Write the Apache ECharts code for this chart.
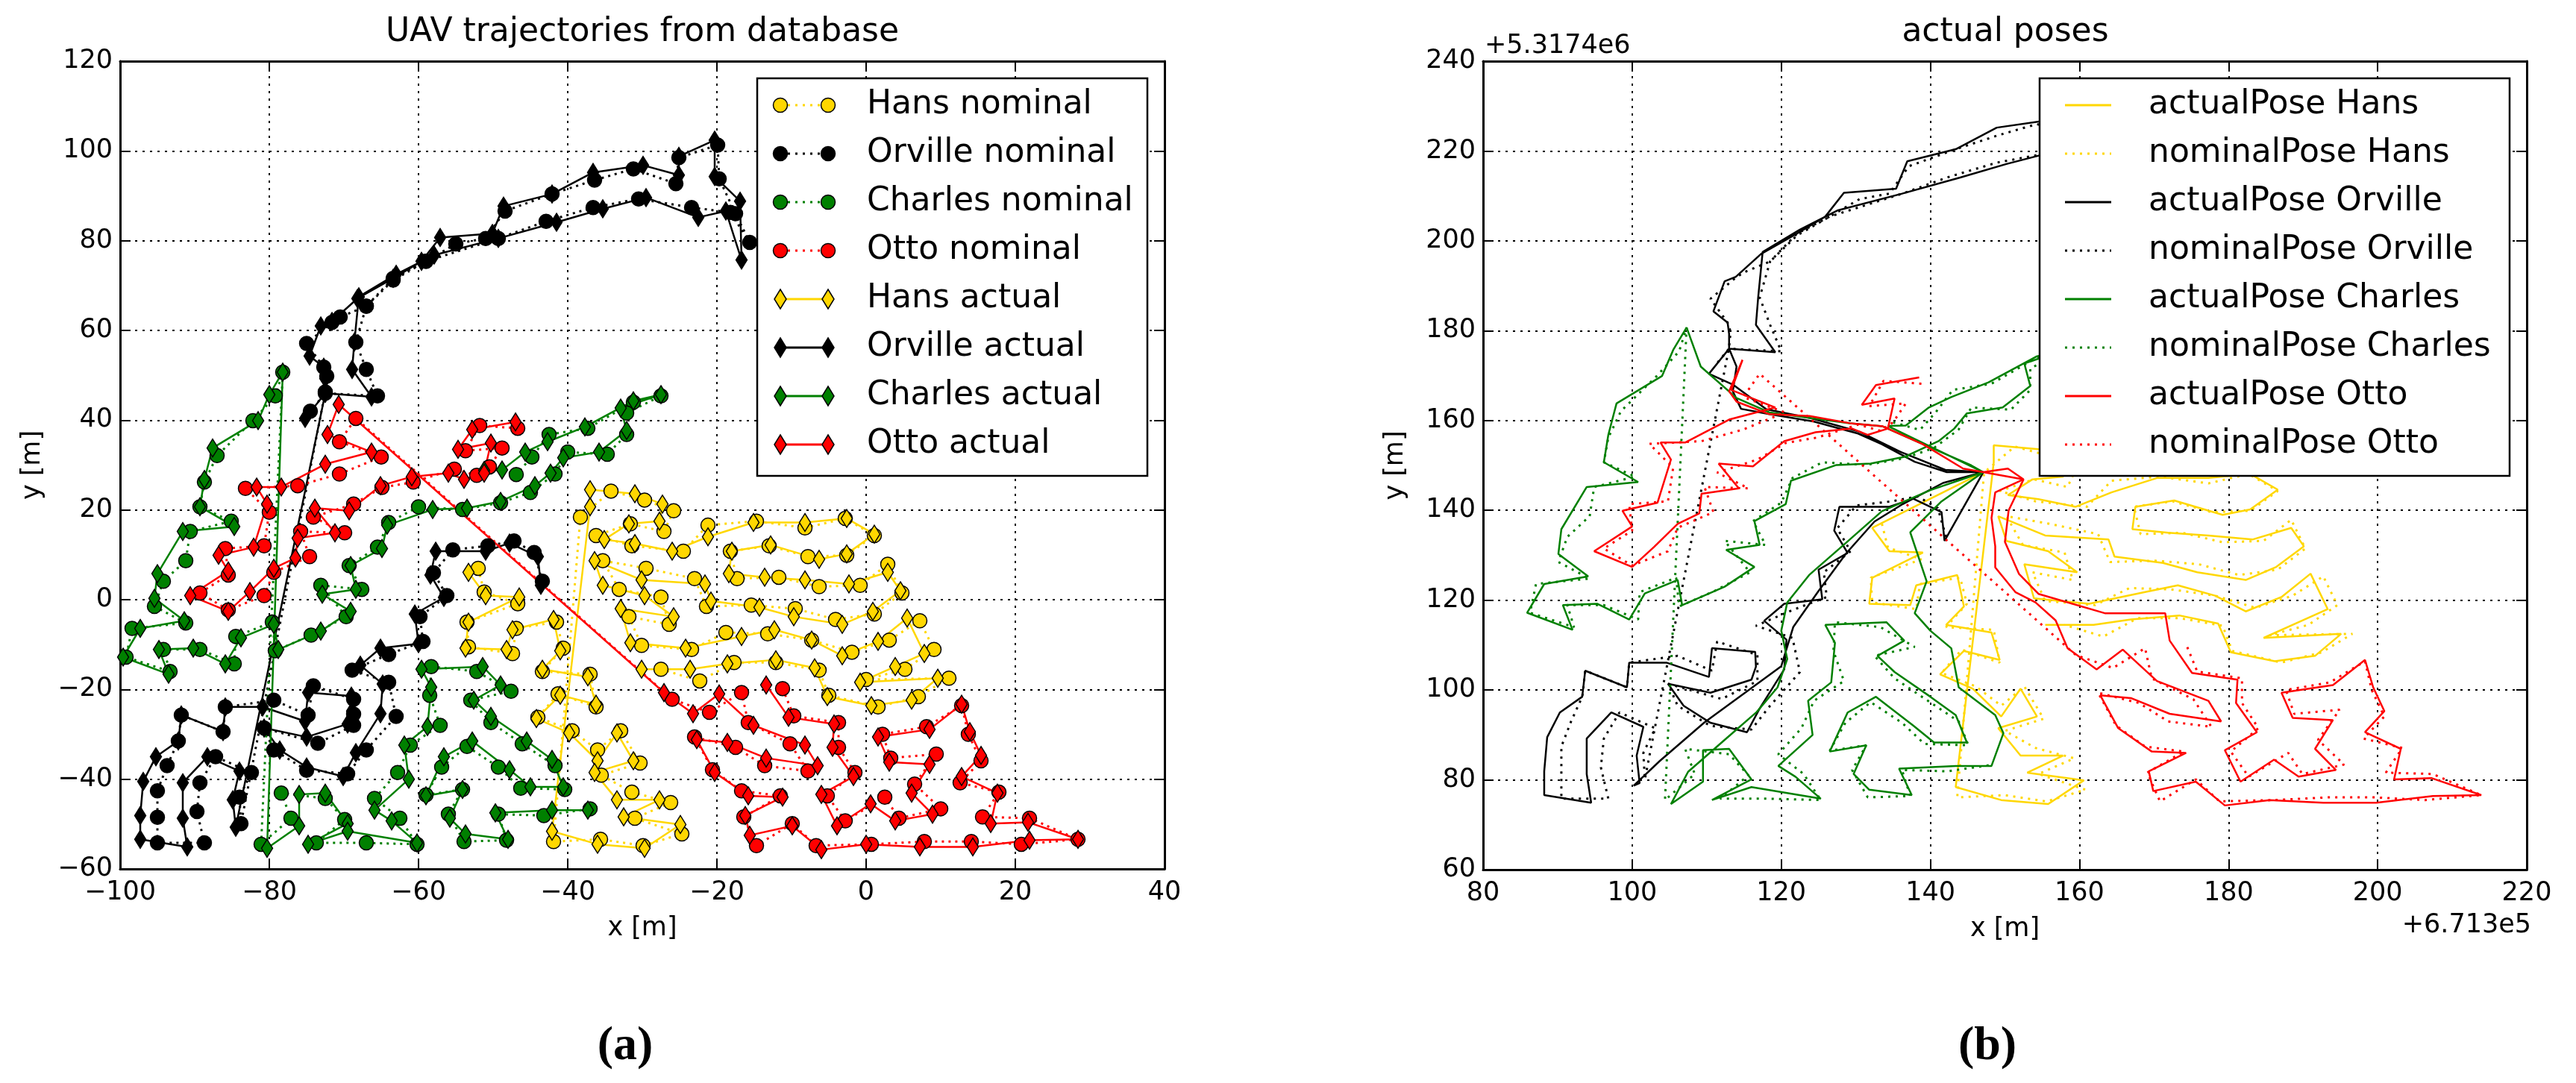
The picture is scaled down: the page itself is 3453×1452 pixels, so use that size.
<!DOCTYPE html>
<html>
<head>
<meta charset="utf-8">
<title>UAV trajectories</title>
<script src="https://cdn.jsdelivr.net/npm/echarts@6/dist/echarts.min.js"></script>
<style>
  html, body { margin: 0; padding: 0; background: #fff; }
  #main { width: 3453px; height: 1452px; }
</style>
</head>
<body>
<div id="main"></div>
<script type="text/javascript">
// waypoints, local metres: [x, y]
var hansNominal = [
  [-52.0,7.0],[-51.2,1.7],[-46.7,-0.9],[-53.5,-5.0],[-53.3,-10.5],[-47.4,-12.0],[-46.9,-6.4],[-41.5,-5.0],[-40.6,-10.8],[-43.4,-16.0],
  [-37.0,-16.6],[-36.2,-23.9],[-41.3,-21.0],[-44.0,-26.2],[-39.4,-29.2],[-36.0,-33.5],[-32.9,-29.2],[-30.3,-36.4],[-35.5,-39.1],[-31.4,-42.9],
  [-26.2,-45.2],[-31.0,-48.7],[-24.7,-52.2],[-29.9,-54.8],[-35.6,-53.4],[-41.9,-53.9],
  [-38.3,18.4],[-34.2,24.2],[-29.7,22.2],[-25.8,19.8],[-27.1,15.2],[-31.6,16.9],[-36.2,14.3],[-31.4,12.0],[-24.5,10.8],[-21.2,16.6],
  [-14.7,17.5],[-8.2,16.0],[-2.8,18.1],[1.1,14.3],[-2.6,9.9],[-7.8,9.6],[-13.0,12.0],[-18.2,10.8],[-17.3,4.7],[-11.7,5.0],
  [-6.3,2.9],[-0.8,3.2],[2.9,7.9],[4.8,1.5],[1.1,-3.2],[-4.1,-4.4],[-9.5,-2.0],[-15.4,-1.2],[-21.4,-1.5],[-23.0,4.7],
  [-29.5,7.0],[-35.3,8.7],[-33.1,2.3],[-27.5,0.6],[-26.4,-5.5],[-31.8,-3.8],[-30.1,-10.2],[-23.4,-11.1],[-18.8,-7.3],[-13.2,-7.6],
  [-7.3,-9.0],[-1.9,-11.7],[3.1,-9.0],[7.2,-4.7],[9.1,-11.1],[5.2,-15.5],[0.0,-17.8],[11.1,-17.5],[7.0,-21.6],[1.6,-23.9],
  [-5.0,-21.3],[-6.3,-15.7],[-12.1,-14.0],[-17.7,-14.0],[-22.3,-18.1],[-27.5,-15.5]
];
var hansActualA = [
  [-53.3,6.1],[-51.0,0.9],[-46.5,0.6],[-53.3,-5.0],[-53.7,-10.8],[-48.2,-11.1],[-47.4,-6.7],[-41.9,-4.4],[-41.0,-11.4],[-43.4,-15.5],
  [-37.3,-17.2],[-36.2,-23.3],[-41.0,-21.3],[-44.2,-26.5],[-39.8,-29.7],[-36.0,-35.9],[-33.4,-29.7],[-31.2,-35.9],[-36.4,-38.5],[-33.4,-44.6],
  [-27.7,-44.6],[-32.5,-48.4],[-24.9,-50.1],[-29.7,-55.4],[-36.0,-54.5],[-42.1,-51.6]
];
var hansActualB = [
  [-37.0,20.7],[-37.0,24.5],[-31.0,23.6],[-27.3,21.3],[-27.7,17.5],[-31.8,16.9],[-35.1,13.4],[-31.0,12.5],[-26.0,10.8],[-21.2,14.0],
  [-15.1,17.2],[-8.2,17.2],[-2.6,18.1],[1.1,14.6],[-2.6,10.2],[-6.3,9.0],[-12.8,12.2],[-18.0,10.8],[-18.4,5.8],[-13.6,5.0],
  [-8.2,4.4],[-2.3,3.5],[2.9,6.1],[4.6,2.0],[0.9,-2.6],[-3.2,-5.5],[-9.7,-3.8],[-14.3,-1.7],[-20.8,-0.3],[-21.6,3.5],
  [-30.1,4.4],[-36.4,8.7],[-35.3,3.2],[-29.7,0.9],[-25.8,-3.8],[-32.9,-2.0],[-31.6,-9.6],[-24.2,-10.8],[-16.7,-8.2],[-12.3,-6.7],
  [-7.3,-9.0],[-3.2,-12.5],[1.6,-9.3],[5.5,-4.1],[7.8,-12.0],[3.9,-14.9],[-0.8,-18.4],[9.6,-17.5],[6.1,-22.4],[0.7,-23.6],
  [-5.2,-21.6],[-6.9,-15.2],[-12.1,-13.4],[-18.6,-14.3],[-23.6,-15.5],[-30.1,-15.5]
];
var orvilleNominal = [
  [-43.4,4.1],[-44.5,10.5],[-47.2,13.1],[-50.7,12.0],[-55.4,11.1],[-58.0,6.0],[-56.2,0.9],[-59.8,-3.8],[-59.4,-9.3],[-64.0,-12.2],
  [-68.9,-15.7],[-64.0,-18.4],[-63.0,-26.0],[-67.0,-33.5],[-69.5,-38.8],[-75.0,-38.0],[-79.4,-33.5],[-80.7,-28.6],[-73.5,-32.0],[-68.7,-28.0],
  [-68.7,-25.5],[-68.7,-22.2],[-74.1,-19.2],[-74.8,-25.7],[-79.4,-22.4],[-85.9,-23.9],[-86.2,-29.4],[-91.8,-25.7],[-92.2,-31.5],[-93.7,-37.0],
  [-95.0,-42.6],[-95.0,-48.5],[-95.0,-54.2],[-88.7,-54.2],[-89.7,-47.2],[-89.3,-40.8],[-87.2,-35.0],[-82.4,-38.5],[-84.0,-44.0],[-83.8,-49.9],
  [-72.5,46.3],[-72.3,49.8],[-72.7,51.8],[-75.0,57.1],[-71.6,61.8],[-70.5,63.0],[-67.0,65.4],[-63.4,71.2],[-59.0,75.4],[-55.0,79.3],
  [-51.0,80.5],[-48.4,86.6],[-42.1,90.4],[-36.4,93.5],[-31.2,96.0],[-25.5,92.7],[-25.1,98.5],[-19.9,101.3],[-19.7,93.8],[-17.5,86.0],
  [-15.6,79.6],[-18.2,86.3],[-23.4,87.4],[-30.5,89.3],[-36.6,87.4],[-42.9,84.3],[-49.3,80.5],[-59.0,75.4],[-63.4,71.6],[-67.0,65.4],
  [-68.4,57.4],[-67.0,51.3],[-65.5,45.4],[-72.5,46.0],[-74.5,42.0]
];
var orvilleActualA = [
  [-43.6,3.2],[-44.0,9.6],[-47.8,12.6],[-51.0,10.8],[-57.7,10.8],[-58.4,5.5],[-56.6,0.5],[-60.5,-3.2],[-60.0,-9.8],[-65.1,-10.8],
  [-67.8,-14.6],[-64.8,-18.8],[-65.1,-25.4],[-68.4,-34.1],[-70.1,-39.4],[-75.0,-37.3],[-78.6,-33.5],[-80.7,-28.6],[-75.0,-30.6],[-69.5,-27.7],
  [-68.9,-24.8],[-69.0,-21.5],[-74.8,-20.7],[-75.2,-27.1],[-80.9,-23.9],[-85.9,-23.9],[-86.2,-29.4],[-91.8,-25.7],[-92.2,-31.5],[-95.2,-35.0],
  [-96.9,-40.5],[-97.3,-48.1],[-97.3,-53.4],[-91.0,-55.1],[-91.6,-48.7],[-91.6,-40.8],[-88.3,-35.0],[-84.0,-38.2],[-84.9,-44.6],[-84.5,-50.7]
];
var orvilleActualB = [
  [-72.5,46.0],[-72.5,49.3],[-72.7,51.8],[-74.6,54.3],[-73.1,61.0],[-71.6,62.0],[-68.2,67.1],[-63.4,71.6],[-59.6,75.4],[-57.1,80.7],
  [-50.1,81.6],[-48.6,87.7],[-42.1,90.4],[-36.6,95.2],[-29.9,96.8],[-25.1,94.6],[-25.1,98.8],[-20.3,102.4],[-20.3,94.3],[-16.9,88.8],
  [-16.7,75.7],[-18.8,86.6],[-22.5,85.2],[-29.5,89.6],[-35.3,87.1],[-41.5,84.1],[-49.3,80.5],[-57.9,76.8],[-63.0,72.5],[-68.0,67.5],
  [-68.6,57.4],[-68.9,51.3],[-66.3,45.2],[-72.5,46.0],[-75.2,40.4]
];
var charlesNominal = [
  [-50.5,29.6],[-46.9,27.9],[-44.8,31.8],[-42.5,36.8],[-37.3,38.2],[-31.2,44.0],[-27.5,45.4],[-32.1,41.6],[-32.1,36.8],[-34.7,32.4],
  [-40.0,32.9],[-41.7,28.0],[-45.0,23.9],[-49.0,21.6],[-54.1,20.1],[-60.0,20.7],[-64.0,17.2],[-65.5,11.7],[-69.3,7.6],[-67.6,2.3],
  [-73.1,3.2],[-69.7,-3.8],[-74.4,-7.9],[-79.2,-11.4],[-79.6,-5.0],[-84.5,-8.2],[-84.7,-14.3],[-89.3,-11.1],[-94.2,-11.1],[-93.3,-16.0],
  [-99.2,-12.8],[-98.4,-6.4],[-91.2,-5.2],[-95.4,-1.5],[-94.2,4.1],[-91.2,8.7],[-90.6,15.2],[-85.1,17.5],[-89.3,20.7],[-88.7,26.2],
  [-87.0,32.1],[-82.2,39.9],[-79.2,45.4],[-78.2,50.7],
  [-81.1,-54.5],[-77.1,-48.7],[-78.4,-43.1],[-72.5,-44.3],[-69.9,-49.0],[-73.7,-54.2],[-67.0,-54.2],[-60.2,-54.5],[-62.5,-48.7],[-65.9,-44.3],
  [-62.8,-38.5],[-61.1,-32.4],[-57.1,-28.0],[-58.5,-21.3],[-58.3,-14.9],[-52.2,-16.0],[-47.6,-20.4],[-53.0,-22.4],[-50.3,-27.4],[-46.1,-32.1],
  [-41.7,-37.0],[-40.4,-42.3],[-46.3,-42.0],[-49.3,-37.3],[-53.5,-32.7],[-56.9,-37.3],[-59.0,-43.5],[-54.1,-42.3],[-56.0,-47.8],[-53.9,-53.9],
  [-48.2,-53.6],[-49.3,-47.8],[-43.2,-48.1],[-37.0,-46.6]
];
var charlesActualA = [
  [-51.2,28.8],[-48.8,28.9],[-45.7,32.9],[-42.7,35.2],[-37.7,38.5],[-31.2,44.3],[-27.5,45.7],[-32.9,42.7],[-32.1,37.7],[-35.8,32.9],
  [-40.6,31.6],[-42.3,28.2],[-44.4,25.4],[-49.0,21.9],[-53.5,20.4],[-58.1,20.1],[-64.2,16.6],[-64.9,11.4],[-69.1,7.6],[-68.4,2.3],
  [-72.9,1.2],[-69.1,-2.6],[-73.1,-7.0],[-78.8,-11.1],[-79.4,-5.5],[-83.8,-8.5],[-85.9,-14.3],[-90.2,-10.8],[-94.8,-11.1],[-93.5,-16.6],
  [-99.6,-12.8],[-97.3,-6.4],[-91.4,-4.7],[-95.4,0.3],[-95.0,5.8],[-91.6,15.2],[-84.7,16.3],[-89.3,20.7],[-88.7,26.8],[-87.6,33.8],
  [-81.5,39.9],[-80.0,45.7],[-78.2,50.7]
];
var charlesActualB = [
  [-80.3,-55.4],[-76.0,-50.4],[-76.0,-43.4],[-72.5,-43.1],[-69.5,-49.9],[-74.8,-54.5],[-69.5,-51.6],[-60.2,-54.2],[-63.6,-49.3],[-65.9,-46.9],
  [-61.3,-40.0],[-61.9,-32.4],[-58.8,-28.3],[-58.3,-19.5],[-59.6,-15.5],[-51.4,-14.9],[-49.0,-19.0],[-52.6,-22.4],[-50.3,-26.0],[-45.5,-31.5],
  [-42.1,-35.6],[-40.6,-41.7],[-45.0,-41.7],[-47.8,-37.9],[-52.8,-31.5],[-56.6,-35.0],[-59.0,-43.7],[-54.1,-42.3],[-55.8,-48.7],[-53.7,-52.2],
  [-48.0,-53.4],[-49.7,-47.5],[-42.1,-46.9],[-37.3,-46.9]
];
var ottoNominal = [
  [-46.7,38.2],[-51.8,38.8],[-53.7,33.2],[-48.8,33.8],[-50.5,29.6],[-52.2,27.7],[-55.2,29.1],[-60.7,26.2],[-64.9,25.0],[-68.7,21.3],
  [-74.1,18.4],[-69.9,14.9],[-75.8,15.2],[-74.6,9.6],[-79.4,6.1],[-80.7,0.9],[-85.5,-2.3],[-89.3,1.5],[-85.5,5.5],[-85.9,11.4],
  [-80.7,12.0],[-80.0,19.5],[-83.2,24.8],[-76.2,25.4],[-70.6,28.0],[-65.0,31.8],[-70.6,35.2],[-68.4,40.4],
  [-26.0,-22.2],[-21.0,-25.1],[-16.7,-20.7],[-15.8,-27.4],[-10.2,-32.1],[-7.8,-38.2],[-13.6,-37.0],[-17.5,-32.9],[-23.0,-30.6],[-20.6,-37.9],
  [-16.7,-42.6],[-11.5,-43.7],[-16.4,-48.4],[-14.7,-54.8],[-9.9,-49.9],[-6.7,-54.8],[0.7,-54.5],[7.8,-53.9],[14.1,-53.9],[20.8,-54.5],
  [28.4,-53.4],[21.9,-48.7],[15.6,-48.4],[17.8,-42.9],[12.6,-40.8],[15.4,-35.9],[13.7,-30.0],[12.8,-23.6],[8.1,-28.3],[2.2,-30.0],
  [3.3,-35.3],[9.4,-34.4],[6.5,-41.1],[10.0,-46.6],[4.4,-48.7],[2.5,-44.0],[-2.8,-49.3],[-5.2,-43.7],[-1.5,-38.5],[-3.7,-32.9],
  [-3.7,-27.4],[-9.7,-25.9],[-11.2,-19.8]
];
var ottoActualA = [
  [-47.0,39.6],[-52.8,37.9],[-54.7,33.5],[-50.3,34.9],[-51.2,28.2],[-53.9,26.8],[-56.0,28.2],[-60.9,27.4],[-65.1,25.4],[-69.3,19.8],
  [-73.9,20.4],[-71.2,14.9],[-76.2,13.7],[-76.5,9.3],[-79.4,7.0],[-82.6,1.8],[-85.5,-2.6],[-90.6,0.9],[-85.5,6.4],[-86.8,9.9],
  [-82.1,11.7],[-80.3,21.3],[-81.7,25.1],[-78.4,25.1],[-72.5,30.2],[-66.3,32.9],[-72.2,36.8],[-70.7,43.5]
];
var ottoActualB = [
  [-27.1,-20.7],[-23.2,-25.4],[-19.7,-21.0],[-15.1,-28.0],[-8.2,-32.4],[-6.5,-37.0],[-13.4,-35.3],[-18.6,-31.8],[-22.7,-31.2],[-20.3,-38.5],
  [-15.8,-43.7],[-11.2,-44.0],[-16.2,-48.1],[-15.6,-52.5],[-9.9,-50.4],[-6.0,-55.7],[0.0,-54.5],[7.2,-55.1],[14.3,-55.1],[21.9,-53.6],
  [28.4,-53.4],[21.7,-49.6],[16.7,-49.9],[17.6,-43.1],[12.8,-39.4],[15.4,-34.7],[13.9,-29.4],[12.8,-23.3],[8.5,-28.9],[1.6,-30.6],
  [3.1,-36.2],[8.5,-36.7],[6.1,-43.1],[8.9,-47.8],[3.9,-49.3],[0.6,-45.5],[-3.9,-50.4],[-6.0,-43.4],[-1.7,-39.4],[-4.5,-32.9],
  [-4.3,-27.7],[-10.4,-26.2],[-13.4,-19.0]
];

// legs only seen in panel (b): flights via the home position (local metres)
var HOME = [-38.4, 18.5];
var orvilleR1ToHome = [[-85.3,-51.3],[-81.8,-45.8],[-75.8,-37.2],[-65.5,-24.7],[-63.9,-16.0],[-60.6,-8.2],[-56.8,0.4],[-53.0,7.5],[-49.2,11.4],[-43.8,16.1]];
var orvilleHomeToR2 = [[-43.3,18.5],[-47.6,20.8],[-52.0,24.7],[-55.2,27.1],[-61.2,29.8],[-67.1,31.4],[-70.9,32.6],[-72.0,36.5],[-71.5,42.0]];
var orvilleR2ToHome = [[-72.0,38.0],[-67.5,32.5],[-61.5,30.5],[-55.0,27.5],[-49.5,23.0],[-43.5,19.0]];
var charlesTopToHome = [[-76.3,42.0],[-71.5,35.0],[-67.1,31.8],[-61.7,30.6],[-56.3,29.4],[-51.9,28.7],[-45.5,24.0],[-40.0,20.0]];
var charlesHomeToB = [[-45.5,14.5],[-52.0,9.8],[-56.8,2.8],[-61.7,-4.3],[-64.7,-10.5],[-65.5,-16.8],[-64.7,-23.1],[-66.0,-29.4],[-68.8,-34.9],[-73.1,-41.1],[-78.0,-48.2]];
var charlesBToHome = [[-35.7,-39.6],[-36.8,-35.6],[-41.7,-29.4],[-42.7,-20.7],[-45.5,-16.8],[-47.6,-12.9],[-46.0,-5.8],[-48.2,5.1],[-44.0,12.0]];
var ottoR1ToHome = [[-72.5,36.5],[-71.5,34.2],[-67.1,31.4],[-61.7,31.0],[-56.3,29.4],[-51.9,28.7],[-46.5,24.7],[-41.1,19.3]];
var ottoHomeToR2 = [[-35.1,19.3],[-33.0,16.9],[-36.8,14.0],[-37.3,8.3],[-36.8,2.0],[-36.8,-2.7],[-34.1,-8.2],[-31.4,-10.5],[-28.7,-14.5]];
var ottoR2ToHome = [[-14.0,-12.9],[-22.1,-12.9],[-31.0,-8.6],[-33.6,-4.2],[-35.5,3.0],[-35.0,10.0],[-33.0,16.9]];

// local origin expressed in the offset frame of panel (b) (+6.713e5 / +5.3174e6)
var ORIGIN_X = 185.5;
var ORIGIN_Y = 130.0;

var uavNames = ['Hans', 'Orville', 'Charles', 'Otto'];
var uavColors = ['#FFD700', '#000000', '#008000', '#FF0000'];
var nominalData = [hansNominal, orvilleNominal, charlesNominal, ottoNominal];
var actualData = [
  hansActualA.concat(hansActualB),
  orvilleActualA.concat(orvilleActualB),
  charlesActualA.concat(charlesActualB),
  ottoActualA.concat(ottoActualB)
];
var poseData = [
  [HOME].concat(hansActualA, hansActualB),
  [HOME].concat(orvilleActualA, orvilleR1ToHome, [HOME], orvilleHomeToR2, orvilleActualB, orvilleR2ToHome, [HOME]),
  [HOME].concat(charlesActualA, charlesTopToHome, [HOME], charlesHomeToB, charlesActualB, charlesBToHome, [HOME]),
  ottoActualA.concat(ottoR1ToHome, [HOME], ottoHomeToR2, ottoActualB, ottoR2ToHome, [HOME])
];

var FONT = '"DejaVu Sans", sans-serif';
var minusFmt = function (v) { return String(v).replace('-', '\u2212'); };

function toUtm(arr) {
  return arr.map(function (p) { return [p[0] + ORIGIN_X, p[1] + ORIGIN_Y]; });
}

// axes: bottom/left with labels, top/right only for the inner ticks
function makeX(grid, min, max, pos, labels, name) {
  return {
    gridIndex: grid, type: 'value', min: min, max: max, interval: 20, position: pos,
    name: name || '', nameLocation: 'middle', nameGap: 62,
    nameTextStyle: { fontFamily: FONT, fontSize: 35, color: '#000' },
    axisLine: { show: true, onZero: false, lineStyle: { color: '#000', width: 3 } },
    axisTick: { show: true, inside: true, length: 14, lineStyle: { color: '#000', width: 2 } },
    axisLabel: { show: labels, formatter: minusFmt, fontFamily: FONT, fontSize: 35, color: '#000', margin: 14 },
    splitLine: { show: labels, lineStyle: { color: '#000', width: 2, type: [3, 7] } }
  };
}
function makeY(grid, min, max, pos, labels, name) {
  return {
    gridIndex: grid, type: 'value', min: min, max: max, interval: 20, position: pos,
    name: name || '', nameLocation: 'middle', nameGap: 100, nameRotate: 90,
    nameTextStyle: { fontFamily: FONT, fontSize: 35, color: '#000' },
    axisLine: { show: true, onZero: false, lineStyle: { color: '#000', width: 3 } },
    axisTick: { show: true, inside: true, length: 14, lineStyle: { color: '#000', width: 2 } },
    axisLabel: { show: labels, formatter: minusFmt, fontFamily: FONT, fontSize: 35, color: '#000', margin: 10 },
    splitLine: { show: labels, lineStyle: { color: '#000', width: 2, type: [3, 7] } }
  };
}

var series = [];
// panel (a): nominal waypoints (circles, dotted) then actual (thin diamonds, solid)
for (var i = 0; i < 4; i++) {
  series.push({
    name: uavNames[i] + ' nominal', type: 'line', xAxisIndex: 0, yAxisIndex: 0,
    data: nominalData[i], symbol: 'circle', symbolSize: 19, showAllSymbol: true,
    lineStyle: { color: uavColors[i], width: 3, type: [3, 6] },
    itemStyle: { color: uavColors[i], borderColor: '#000', borderWidth: 1.5 },
    animation: false, silent: true
  });
}
for (var i = 0; i < 4; i++) {
  series.push({
    name: uavNames[i] + ' actual', type: 'line', xAxisIndex: 0, yAxisIndex: 0,
    data: actualData[i], symbol: 'diamond', symbolSize: [15, 24], showAllSymbol: true,
    lineStyle: { color: uavColors[i], width: 2.5 },
    itemStyle: { color: uavColors[i], borderColor: '#000', borderWidth: 1.5 },
    animation: false, silent: true
  });
}
// panel (b): same flights in the absolute frame
for (var i = 0; i < 4; i++) {
  series.push({
    name: 'actualPose ' + uavNames[i], type: 'line', xAxisIndex: 2, yAxisIndex: 2,
    data: toUtm(poseData[i]), showSymbol: false,
    lineStyle: { color: uavColors[i], width: 2.5 },
    animation: false, silent: true
  });
  series.push({
    name: 'nominalPose ' + uavNames[i], type: 'line', xAxisIndex: 2, yAxisIndex: 2,
    data: toUtm(nominalData[i]), showSymbol: false,
    lineStyle: { color: uavColors[i], width: 3, type: [3, 7] },
    animation: false, silent: true
  });
}

// legends drawn as boxes like the matplotlib ones
var graphics = [];
function legendBox(x, y, w, h) {
  graphics.push({ type: 'rect', z: 100, shape: { x: x, y: y, width: w, height: h },
    style: { fill: '#fff', stroke: '#000', lineWidth: 2.5 } });
}
function legendText(x, y, txt) {
  graphics.push({ type: 'text', z: 101, x: x, y: y,
    style: { text: txt, font: '44px ' + FONT, fill: '#000', verticalAlign: 'middle', textVerticalAlign: 'middle' } });
}
function legendMarker(kind, cx, cy, color) {
  if (kind === 'circle') {
    graphics.push({ type: 'circle', z: 102, shape: { cx: cx, cy: cy, r: 9.5 },
      style: { fill: color, stroke: '#000', lineWidth: 1.5 } });
  } else {
    graphics.push({ type: 'polygon', z: 102,
      shape: { points: [[cx, cy - 13], [cx + 8, cy], [cx, cy + 13], [cx - 8, cy]] },
      style: { fill: color, stroke: '#000', lineWidth: 1.5 } });
  }
}
function legendLine(x1, x2, y, color, dotted) {
  graphics.push({ type: 'line', z: 101, shape: { x1: x1, y1: y, x2: x2, y2: y },
    style: { stroke: color, lineWidth: 3, lineDash: dotted ? [3, 7] : null } });
}

var ROW0 = 141, ROWH = 65;
legendBox(1015, 105, 523, 533);
for (var i = 0; i < 8; i++) {
  var k = i % 4;
  var y = ROW0 + i * ROWH;
  var nominal = i < 4;
  legendLine(1046, 1110, y, uavColors[k], nominal);
  legendMarker(nominal ? 'circle' : 'diamond', 1046, y, uavColors[k]);
  legendMarker(nominal ? 'circle' : 'diamond', 1110, y, uavColors[k]);
  legendText(1162, y, series[i].name);
}
legendBox(2734, 105, 630, 533);
for (var i = 0; i < 8; i++) {
  var k = Math.floor(i / 2);
  var y = ROW0 + i * ROWH;
  legendLine(2768, 2830, y, uavColors[k], i % 2 === 1);
  legendText(2880, y, series[8 + i].name);
}

// offset texts and subfigure labels
graphics.push({ type: 'text', z: 101, x: 1990, y: 62,
  style: { text: '+5.3174e6', font: '35px ' + FONT, fill: '#000', verticalAlign: 'middle', textVerticalAlign: 'middle' } });
graphics.push({ type: 'text', z: 101, x: 3393, y: 1241,
  style: { text: '+6.713e5', font: '35px ' + FONT, fill: '#000', align: 'right', textAlign: 'right', verticalAlign: 'middle', textVerticalAlign: 'middle' } });
graphics.push({ type: 'text', z: 101, x: 838, y: 1403,
  style: { text: '(a)', font: 'bold 64px "Liberation Serif", serif', fill: '#000', align: 'center', textAlign: 'center', verticalAlign: 'middle', textVerticalAlign: 'middle' } });
graphics.push({ type: 'text', z: 101, x: 2664, y: 1403,
  style: { text: '(b)', font: 'bold 64px "Liberation Serif", serif', fill: '#000', align: 'center', textAlign: 'center', verticalAlign: 'middle', textVerticalAlign: 'middle' } });

var myChart = echarts.init(document.getElementById('main'), null, { renderer: 'canvas' });
var option = {
  backgroundColor: '#fff',
  animation: false,
  title: [
    { text: 'UAV trajectories from database', left: 861, top: 22, textAlign: 'center', padding: 0,
      textStyle: { fontFamily: FONT, fontSize: 44, fontWeight: 'normal', color: '#000' } },
    { text: 'actual poses', left: 2688, top: 22, textAlign: 'center', padding: 0,
      textStyle: { fontFamily: FONT, fontSize: 44, fontWeight: 'normal', color: '#000' } }
  ],
  grid: [
    { left: 161, top: 82, width: 1400, height: 1083 },
    { left: 1988, top: 82, width: 1399, height: 1084 }
  ],
  xAxis: [
    makeX(0, -100, 40, 'bottom', true, 'x [m]'),
    makeX(0, -100, 40, 'top', false),
    makeX(1, 80, 220, 'bottom', true, 'x [m]'),
    makeX(1, 80, 220, 'top', false)
  ],
  yAxis: [
    makeY(0, -60, 120, 'left', true, 'y [m]'),
    makeY(0, -60, 120, 'right', false),
    makeY(1, 60, 240, 'left', true, 'y [m]'),
    makeY(1, 60, 240, 'right', false)
  ],
  series: series,
  graphic: { elements: graphics }
};
myChart.setOption(option);
</script>
</body>
</html>
